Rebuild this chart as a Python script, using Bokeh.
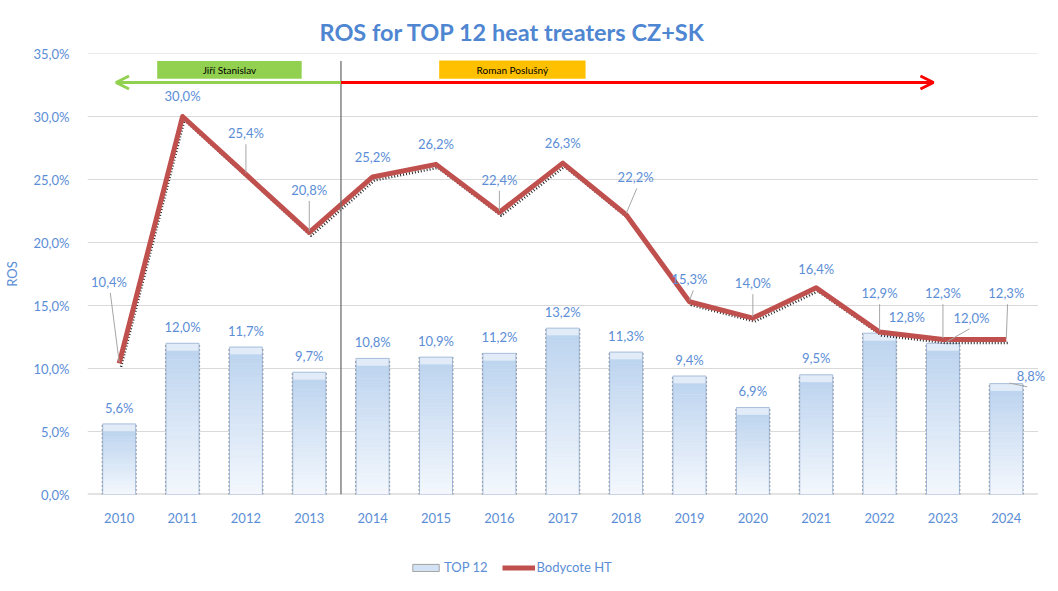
import numpy as np
from bokeh.plotting import figure
from bokeh.layouts import column
from bokeh.models import (FixedTicker, Legend, LegendItem, Arrow, OpenHead)
from bokeh.core.properties import value
from bokeh.embed import file_html
from bokeh.resources import INLINE

# ---------------- data ----------------
years = list(range(2010, 2025))
top12 = [5.6, 12.0, 11.7, 9.7, 10.8, 10.9, 11.2, 13.2, 11.3, 9.4, 6.9, 9.5, 12.8, 12.0, 8.8]
bodycote = [10.4, 30.0, 25.4, 20.8, 25.2, 26.2, 22.4, 26.3, 22.2, 15.3, 14.0, 16.4, 12.9, 12.3, 12.3]
y_ticks = [0, 5, 10, 15, 20, 25, 30, 35]
y_tick_labels = ["0,0%", "5,0%", "10,0%", "15,0%", "20,0%", "25,0%", "30,0%", "35,0%"]
title_text = "ROS for TOP 12 heat treaters CZ+SK"
series_names = ["TOP 12", "Bodycote HT"]
period_names = ["Jiří Stanislav", "Roman Poslušný"]

# ---------------- layout / style ----------------
FONT = "Lato"
LBL = "#5B8ED6"
BAR_W = 0.52
X0, X1 = 2009.5, 2024.5
line_lab_dx = [-0.16, 0, 0, 0, 0, 0, 0, 0, 0.15, 0, 0, 0, 0, 0, 0]
line_lab_y = [16.9, 31.6, 28.7, 24.2, 26.8, 27.8, 25.0, 27.9, 25.2, 17.1, 16.8, 17.9, 16.0, 16.0, 16.0]
line_leader = [0, 2, 3, 6, 8, 9, 10, 12, 13, 14]
line_leader_dx = [0.02, 0, 0, 0, 0.02, 0.06, 0, 0, 0, 0.02]
bar_lab_dx = [0] * 12 + [0.43, 0.45, 0.39]
bar_lab_dy = [1.3] * 12 + [1.25, 2.0, 0.57]
boundary_x = 2013.5
arrow_y = 32.7

def fmt(v):
    return f"{v:.1f}".replace(".", ",") + "%"

p = figure(width=1049, height=529, output_backend="svg", toolbar_location=None,
           x_range=(X0, 2024.65), y_range=(0, 35),
           min_border_left=83, min_border_right=2, min_border_top=53, min_border_bottom=35)
p.outline_line_color = None
p.background_fill_color = "white"
p.border_fill_color = "white"

# title
p.title.text = title_text
p.title.align = "left"
p.title.offset = 232
p.title.standoff = 16
p.title.text_font = FONT
p.title.text_font_size = "23.5px"
p.title.text_font_style = "bold"
p.title.text_color = "#4F86D1"

# axes
p.xgrid.grid_line_color = None
p.ygrid.grid_line_color = None
p.yaxis.ticker = FixedTicker(ticks=y_ticks)
p.yaxis.major_label_overrides = {t: l for t, l in zip(y_ticks, y_tick_labels)}
p.yaxis.axis_line_color = None
p.yaxis.major_tick_line_color = None
p.yaxis.minor_tick_line_color = None
p.yaxis.major_label_text_color = LBL
p.yaxis.major_label_text_font = FONT
p.yaxis.major_label_text_font_size = "13px"
p.yaxis.major_label_standoff = 12
p.yaxis.axis_label = "ROS"
p.yaxis.axis_label_text_font = FONT
p.yaxis.axis_label_text_font_style = "normal"
p.yaxis.axis_label_text_font_size = "13px"
p.yaxis.axis_label_text_color = LBL
p.yaxis.axis_label_standoff = 11

p.xaxis.ticker = FixedTicker(ticks=years)
p.xaxis.major_label_overrides = {y: str(y) for y in years}
p.xaxis.axis_line_color = None
p.xaxis.major_tick_line_color = None
p.xaxis.minor_tick_line_color = None
p.xaxis.major_label_text_color = LBL
p.xaxis.major_label_text_font = FONT
p.xaxis.major_label_text_font_size = "13px"
p.xaxis.major_label_standoff = 12

# gridlines across the category area only
p.segment(x0=[X0] * (len(y_ticks) - 1), x1=[X1] * (len(y_ticks) - 1), y0=y_ticks[1:], y1=y_ticks[1:],
          line_color="#D9D9D9", line_width=1)
p.segment(x0=[X0], x1=[X1], y0=[0], y1=[0], line_color="#C8C8C8", line_width=2)

# ---------------- gradient bars ----------------
N = 30
c_top = np.array([0xBD, 0xD4, 0xEF])
c_bot = np.array([0xF4, 0xF8, 0xFD])
cap = 0.55
L, R, B, T, C = [], [], [], [], []
for x, v in zip(years, top12):
    body = v - cap
    for k in range(N):
        f = (k + 0.5) / N
        col = c_bot + (c_top - c_bot) * f
        L.append(x - BAR_W / 2); R.append(x + BAR_W / 2)
        B.append(body * k / N); T.append(body * (k + 1) / N)
        C.append("#%02x%02x%02x" % tuple(int(round(c)) for c in col))
    L.append(x - BAR_W / 2); R.append(x + BAR_W / 2)
    B.append(body); T.append(v); C.append("#E2ECF8")
p.quad(left=L, right=R, bottom=B, top=T, fill_color=C, line_color=C, line_width=0.6)
bx = np.array(years, dtype=float)
bv = np.array(top12)
p.quad(left=bx - BAR_W / 2, right=bx + BAR_W / 2, bottom=0, top=bv,
       fill_color=None, line_color="#A8BEDC", line_width=1)
p.segment(x0=bx - BAR_W / 2 - 0.01, x1=bx - BAR_W / 2 - 0.01, y0=0, y1=bv,
          line_color="#333333", line_dash="1 3", line_width=1, line_alpha=0.75)
p.segment(x0=bx + BAR_W / 2 + 0.01, x1=bx + BAR_W / 2 + 0.01, y0=0, y1=bv,
          line_color="#333333", line_dash="1 3", line_width=1, line_alpha=0.75)

# ---------------- line ----------------
lx = np.array(years, dtype=float)
ly = np.array(bodycote)
p.line(lx + 0.03, ly - 0.27, line_color="black", line_width=2.5, line_dash="1 2", line_alpha=0.85)
p.line(lx, ly, line_color="#C0504D", line_width=5, line_join="round")

# ---------------- boundary and arrows ----------------
p.segment(x0=[boundary_x], x1=[boundary_x], y0=[0], y1=[34.4], line_color="#707070", line_width=1.3)
p.add_layout(Arrow(end=OpenHead(size=13, line_color="#92D050", line_width=3),
                   x_start=boundary_x, y_start=arrow_y, x_end=2009.95, y_end=arrow_y,
                   line_color="#92D050", line_width=3))
p.add_layout(Arrow(end=OpenHead(size=13, line_color="#FF0000", line_width=3),
                   x_start=boundary_x, y_start=arrow_y, x_end=2022.85, y_end=arrow_y,
                   line_color="#FF0000", line_width=3))
p.quad(left=[2010.60, 2015.05], right=[2012.88, 2017.36], bottom=[33.0, 33.0], top=[34.4, 34.45],
       fill_color=["#92D050", "#FFC000"], line_color=None)
p.text(x=[(2010.60 + 2012.88) / 2, (2015.05 + 2017.36) / 2], y=[33.7, 33.72], text=period_names,
       text_font=value(FONT), text_font_size="10px", text_color="black",
       text_align="center", text_baseline="middle")

# ---------------- data labels ----------------
lx0, ly0, lx1, ly1 = [], [], [], []
for i, d in zip(line_leader, line_leader_dx):
    lx0.append(years[i] + line_lab_dx[i] + d); ly0.append(line_lab_y[i] - 0.9)
    lx1.append(years[i]); ly1.append(bodycote[i] + 0.1)
p.segment(x0=lx0, y0=ly0, x1=lx1, y1=ly1, line_color="#A6A6A6", line_width=1)
p.segment(x0=[years[13] + 0.42, years[14] + 0.33], y0=[top12[13] + 1.15, top12[14] - 0.25],
          x1=[years[13] + 0.06, years[14] + 0.05], y1=[top12[13] + 0.12, top12[14] + 0.05],
          line_color="#A6A6A6", line_width=1)

p.text(x=[y + d for y, d in zip(years, line_lab_dx)], y=line_lab_y,
       text=[fmt(v) for v in bodycote], text_font=value(FONT), text_font_size="13px",
       text_color=LBL, text_align="center", text_baseline="middle")
p.text(x=[y + d for y, d in zip(years, bar_lab_dx)], y=[v + d for v, d in zip(top12, bar_lab_dy)],
       text=[fmt(v) for v in top12], text_font=value(FONT), text_font_size="13px",
       text_color=LBL, text_align="center", text_baseline="middle")

# ---------------- legend strip ----------------
p2 = figure(width=1049, height=56, output_backend="svg", toolbar_location=None, title=None,
            x_range=(0, 1), y_range=(0, 1), min_border=0)
p2.axis.visible = False
p2.grid.visible = False
p2.outline_line_color = None
# proxy glyphs kept outside the visible range; they only feed the legend swatches
bar_proxy = p2.quad(left=[-3], right=[-2], bottom=[-3], top=[-2], fill_color="#D3E2F5",
                    line_color="#A0A0A0", line_width=1)
line_proxy = p2.line(x=[-3, -2], y=[-3, -3], line_color="#C0504D", line_width=5)
legend = Legend(items=[LegendItem(label=series_names[0], renderers=[bar_proxy]),
                       LegendItem(label=series_names[1], renderers=[line_proxy])],
                orientation="horizontal", location=(322, 10),
                glyph_width=33, glyph_height=9, label_standoff=2, spacing=14,
                label_text_font=FONT, label_text_font_size="13px", label_text_color=LBL,
                border_line_color=None, background_fill_alpha=0, padding=4, margin=0)
p2.add_layout(legend, "center")

open("out.html", "w").write(file_html(column(p, p2), INLINE))
